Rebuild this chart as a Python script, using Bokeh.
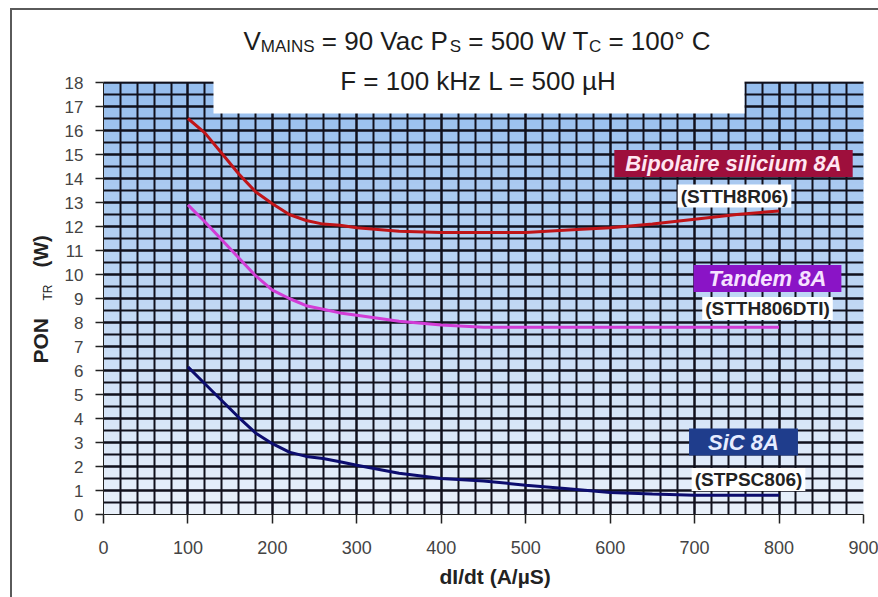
import numpy as np
from bokeh.plotting import figure
from bokeh.layouts import row
from bokeh.models import Label, FixedTicker, Range1d
from bokeh.embed import file_html
from bokeh.resources import INLINE

# ---------------- data ----------------
didt = [100, 120, 140, 160, 180, 200, 220, 240, 260, 280, 300, 350, 400, 450, 500, 550, 600, 650, 700, 750, 800]
p_bipolaire = [16.5, 15.9, 15.05, 14.2, 13.45, 12.95, 12.5, 12.25, 12.1, 12.05, 11.95, 11.8, 11.75, 11.75, 11.75, 11.85, 11.95, 12.1, 12.3, 12.5, 12.65]
p_tandem = [12.9, 12.2, 11.45, 10.7, 9.95, 9.35, 9.0, 8.7, 8.55, 8.4, 8.3, 8.05, 7.9, 7.8, 7.8, 7.8, 7.8, 7.8, 7.8, 7.8, 7.8]
p_sic = [6.15, 5.45, 4.75, 4.05, 3.4, 2.95, 2.6, 2.42, 2.33, 2.2, 2.05, 1.72, 1.5, 1.4, 1.22, 1.07, 0.92, 0.85, 0.8, 0.8, 0.8]

series_names = ["Bipolaire silicium 8A", "Tandem 8A", "SiC 8A"]
series_refs = ["(STTH8R06)", "(STTH806DTI)", "(STPSC806)"]
series_colors = ["#c01418", "#d23cd6", "#0c0c6e"]
box_colors = ["#9e0f3c", "#8a14c6", "#1f3d8c"]
box_text_colors = ["#ffe6f2", "#f6e2ff", "#e6ecff"]

x_ticks = [0, 100, 200, 300, 400, 500, 600, 700, 800, 900]
y_ticks = list(range(0, 19))
x_label = "dI/dt (A/µS)"
title_line1 = [("V", False), ("MAINS", True), (" = 90 Vac P", False), ("S", True),
               (" = 500 W T", False), ("C", True), (" = 100° C", False)]
title_line2 = "F = 100 kHz L = 500 µH"
y_label_parts = [("PON", "bold", 21, 0), ("TR", "normal", 12, 4), ("(W)", "bold", 20, 0)]

FONT = "Liberation Sans"

# ---------------- layout (page pixels) ----------------
W, H = 878, 597
LW = 55                               # width of the narrow strip holding the y title
X0, X1, Y0, Y1 = 103, 863, 514, 82    # plot area: left, right, bottom (y=0), top (y=18)
PPU = (Y0 - Y1) / 18.0                # pixels per y unit
YTOP = 18 + Y1 / PPU                  # data value at the top of the canvas

def bfix(size):       # alphabetic baseline correction (px) for a font size
    return 0.33 * size

def sx(px):           # page px -> data x of the main figure
    return (px - X0) / (X1 - X0) * 900.0
def sy(py):           # page px -> data y of the main figure
    return (Y0 - py) / PPU

# ---------------- left strip: y axis title ----------------
left = figure(width=LW, height=H, x_range=Range1d(0, LW), y_range=Range1d(H - Y0, H),
              x_axis_type=None, y_axis_type=None, output_backend="svg",
              toolbar_location=None, min_border_left=0, min_border_right=0,
              min_border_top=0, min_border_bottom=H - Y0)
left.outline_line_color = None
left.grid.visible = False
y_starts = [363, 300, 267]
for (txt, style, size, shift), ys0 in zip(y_label_parts, y_starts):
    left.add_layout(Label(x=47 - bfix(size) + shift, y=H - ys0, text=txt, angle=np.pi / 2,
                          text_align="left", text_baseline="alphabetic", text_font=FONT,
                          text_font_size="%dpx" % size, text_font_style=style,
                          text_color="#222222"))

# ---------------- main figure ----------------
p = figure(width=W - LW, height=H, x_range=Range1d(0, 900), y_range=Range1d(0, YTOP),
           output_backend="svg", toolbar_location=None,
           min_border_left=X0 - LW, min_border_right=W - X1,
           min_border_top=0, min_border_bottom=H - Y0)
p.outline_line_color = None
p.background_fill_color = "white"
p.border_fill_color = "white"

# gradient background of the plot area
n = 90
edges = np.linspace(0, 18, n + 1)
top_c = np.array([150, 190, 238])
bot_c = np.array([234, 241, 251])
cols = []
for i in range(n):
    t = (edges[i] + edges[i + 1]) / 36.0
    c = (bot_c + (top_c - bot_c) * t).astype(int)
    cols.append("#%02x%02x%02x" % tuple(c))
bands = p.quad(left=0, right=900, bottom=edges[:-1], top=edges[1:], fill_color=cols,
               line_color=cols, line_width=1)
bands.level = "image"

# ticks / grid
p.xaxis.ticker = FixedTicker(ticks=x_ticks, minor_ticks=list(np.arange(0, 901, 20)))
p.yaxis.ticker = FixedTicker(ticks=y_ticks, minor_ticks=list(np.arange(0, 18.01, 0.5)))
p.yaxis.bounds = (0, 18)
for g in (p.xgrid, p.ygrid):
    g.grid_line_color = "#10101c"
    g.grid_line_width = 2
    g.minor_grid_line_color = "#10101c"
    g.minor_grid_line_width = 2
try:
    p.xgrid.cross_bounds = (0, 18)
except Exception:
    pass

for ax in (p.xaxis, p.yaxis):
    ax.axis_line_color = "#222222"
    ax.major_tick_line_color = "#222222"
    ax.major_tick_line_width = 1.5
    ax.minor_tick_line_color = None
    ax.major_tick_in = 0
    ax.major_label_text_font = FONT
    ax.major_label_text_color = "#444444"
p.xaxis.major_tick_out = 9
p.yaxis.major_tick_out = 8
p.xaxis.major_label_text_font_size = "18px"
p.yaxis.major_label_text_font_size = "17px"
p.xaxis.major_label_standoff = 17
p.yaxis.major_label_standoff = 12

p.xaxis.axis_label = "\u00a0" * 4 + x_label
p.xaxis.axis_label_text_font = FONT
p.xaxis.axis_label_text_font_size = "21px"
p.xaxis.axis_label_text_font_style = "bold"
p.xaxis.axis_label_text_color = "#222222"
p.xaxis.axis_label_standoff = 8

# white area above the grid, and the white title box that hides its top
p.quad(left=-50, right=950, bottom=18 + 1.0 / PPU, top=YTOP + 2, fill_color="white", line_color=None)
p.quad(left=sx(213), right=sx(744), bottom=sy(113), top=YTOP + 2, fill_color="white", line_color=None)

# curves
for ys, col in zip([p_bipolaire, p_tandem, p_sic], series_colors):
    p.line(didt, ys, line_color=col, line_width=3)

def lab(px, py, text, **kw):
    p.add_layout(Label(x=sx(px), y=sy(py), text=text, text_font=FONT, **kw))

# series labels
name_pos = [(733, 163), (767, 278), (743, 441.5)]
name_pad = [11, 15, 19]
ref_pos = [(734, 195.5), (767, 308), (748, 479)]
for i in range(3):
    lab(name_pos[i][0], name_pos[i][1], series_names[i],
        text_align="center", text_baseline="middle",
        text_font_size="22px", text_font_style="bold italic",
        text_color=box_text_colors[i], background_fill_color=box_colors[i],
        padding=dict(left=name_pad[i], right=name_pad[i], top=1, bottom=1))
    lab(ref_pos[i][0], ref_pos[i][1], series_refs[i],
        text_align="center", text_baseline="middle",
        text_font_size="19px", text_font_style="bold",
        text_color="#222222", background_fill_color="white",
        padding=dict(left=3, right=3, top=1, bottom=1))

# title with subscripts
AW = {' ': 278, '=': 584, 'V': 667, 'a': 556, 'c': 500, 'P': 667, 'W': 944, 'T': 611,
      '°': 400, 'C': 722, 'M': 833, 'A': 667, 'I': 278, 'N': 722, 'S': 667}
for d in "0123456789":
    AW[d] = 556
def tw(s, size):
    return sum(AW.get(ch, 556) for ch in s) / 1000.0 * size

MAIN, SUB = 26, 17
total = sum(tw(s, SUB if sub else MAIN) for s, sub in title_line1)
cx = 476.5 - total / 2
for s, sub in title_line1:
    size = SUB if sub else MAIN
    lead = len(s) - len(s.lstrip())
    lab(cx + tw(" " * lead, size), 49 - bfix(size) + (3 if sub else 0), s.strip(),
        text_align="left", text_baseline="alphabetic",
        text_font_size="%dpx" % size, text_color="#1c1c1c")
    cx += tw(s, size)
lab(478, 89 - bfix(MAIN), title_line2, text_align="center", text_baseline="alphabetic",
    text_font_size="%dpx" % MAIN, text_color="#1c1c1c")

layout = row(left, p, spacing=0,
             stylesheets=[":host::before { content: ''; position: absolute; left: 10px; "
                          "top: 8px; right: 0; bottom: 0; border-left: 2px solid #5a5a5a; "
                          "border-top: 2px solid #5a5a5a; z-index: 1000; pointer-events: none; }"])

open("out.html", "w").write(file_html(layout, INLINE))
